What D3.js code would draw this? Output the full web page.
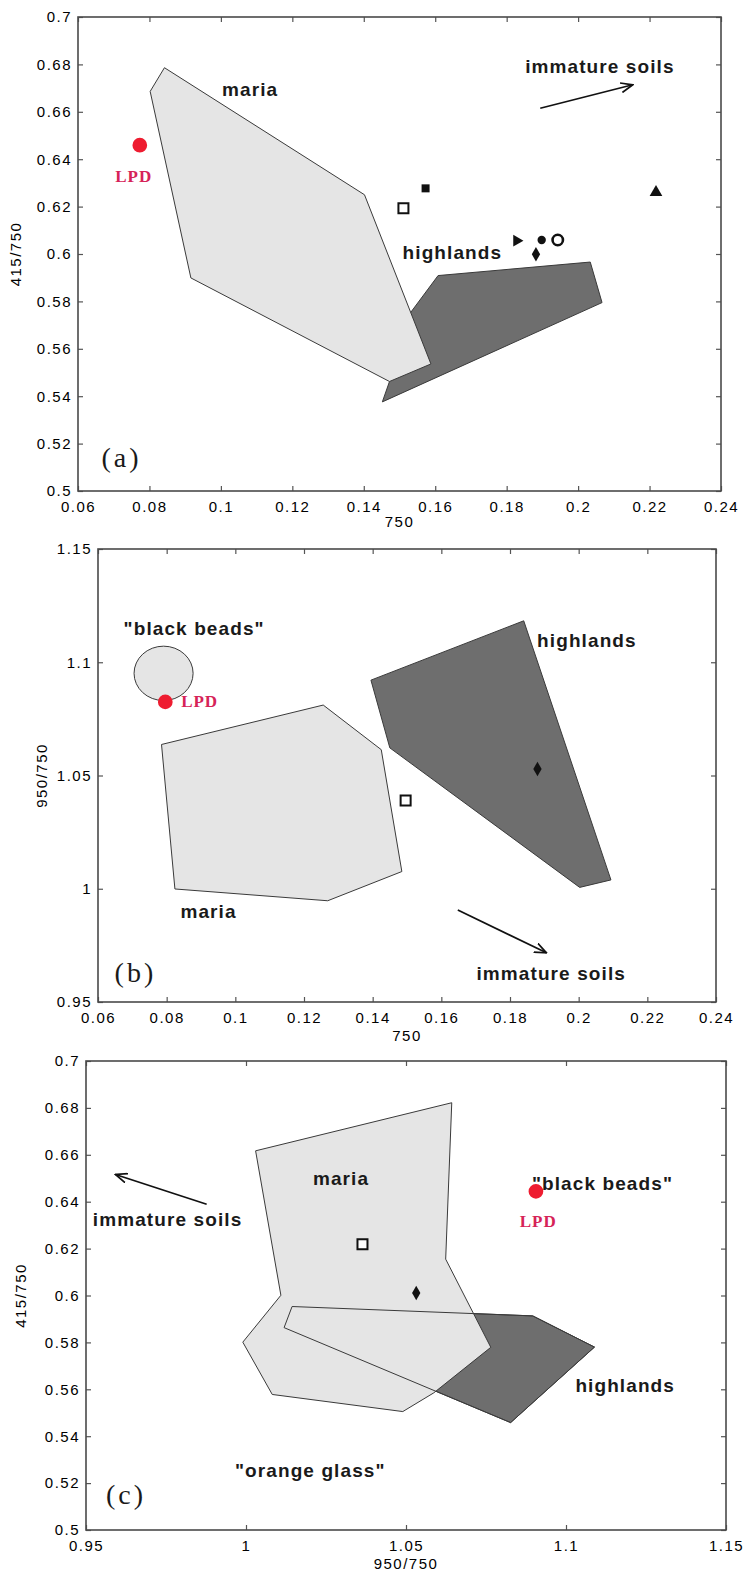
<!DOCTYPE html>
<html>
<head>
<meta charset="utf-8">
<script src="https://cdn.jsdelivr.net/npm/d3@7"></script>
<style>
  body { margin: 0; background: #fff; }
</style>
</head>
<body>
<svg id="fig" width="747" height="1577"></svg>
<script>
var svg = d3.select("#fig");

// ---- panel (a): 750 vs 415/750 ----
var aXTicks = [0.06, 0.08, 0.1, 0.12, 0.14, 0.16, 0.18, 0.2, 0.22, 0.24];
var aYTicks = [0.5, 0.52, 0.54, 0.56, 0.58, 0.6, 0.62, 0.64, 0.66, 0.68, 0.7];
var aHighlands = [[0.1608, 0.5909], [0.2034, 0.5966], [0.2067, 0.5795], [0.1452, 0.5376], [0.1472, 0.5462], [0.1500, 0.5690]];
var aMaria = [[0.0842, 0.6786], [0.0802, 0.6686], [0.0916, 0.5899], [0.1472, 0.5462], [0.1588, 0.5536], [0.1402, 0.6250]];
var aPoints = [
  ["open square", 0.1511, 0.6193],
  ["filled square", 0.1573, 0.6277],
  ["right triangle", 0.1828, 0.6056],
  ["filled circle", 0.1898, 0.6059],
  ["filled diamond", 0.1882, 0.5999],
  ["open circle", 0.1943, 0.6059],
  ["up triangle", 0.2218, 0.6260],
  ["LPD", 0.0773, 0.6459]
];
var aLabels = [
  ["maria", 0.1082, 0.6695],
  ["immature soils", 0.2061, 0.6790],
  ["highlands", 0.1648, 0.6008]
];
var aLpdLabel = [0.0756, 0.6328];
var aArrow = [[0.1894, 0.6615], [0.2153, 0.6714]];
var aTag = ["(a)", 0.0722, 0.5140];

// ---- panel (b): 750 vs 950/750 ----
var bXTicks = [0.06, 0.08, 0.1, 0.12, 0.14, 0.16, 0.18, 0.2, 0.22, 0.24];
var bYTicks = [0.95, 1, 1.05, 1.1, 1.15];
var bHighlands = [[0.1395, 1.0921], [0.1840, 1.1183], [0.2094, 1.0039], [0.2003, 1.0006], [0.1450, 1.0622]];
var bMaria = [[0.0785, 1.0637], [0.1256, 1.0811], [0.1425, 1.0614], [0.1485, 1.0076], [0.1269, 0.9947], [0.0824, 0.9999]];
var bBeads = [0.0791, 1.0951, 0.0086, 0.0120]; // centre x, centre y, half-width, half-height
var bPoints = [
  ["open square", 0.1496, 1.0390],
  ["filled diamond", 0.1880, 1.0529],
  ["LPD", 0.0796, 1.0825]
];
var bLabels = [
  ["\"black beads\"", 0.0880, 1.1149],
  ["highlands", 0.2024, 1.1094],
  ["maria", 0.0922, 0.9899],
  ["immature soils", 0.1920, 0.9625]
];
var bLpdLabel = [0.0896, 1.0825];
var bArrow = [[0.1648, 0.9906], [0.1906, 0.9717]];
var bTag = ["(b)", 0.0709, 0.9629];

// ---- panel (c): 950/750 vs 415/750 ----
var cXTicks = [0.95, 1, 1.05, 1.1, 1.15];
var cYTicks = [0.5, 0.52, 0.54, 0.56, 0.58, 0.6, 0.62, 0.64, 0.66, 0.68, 0.7];
var cHighlands = [[1.0144, 0.5953], [1.0896, 0.5913], [1.1089, 0.5780], [1.0827, 0.5458], [1.0119, 0.5863]];
var cMaria = [[1.0030, 0.6617], [1.0643, 0.6822], [1.0624, 0.6155], [1.0765, 0.5779], [1.0587, 0.5585],
              [1.0490, 0.5505], [1.0082, 0.5578], [0.9990, 0.5801], [1.0109, 0.6001]];
var cPoints = [
  ["open square", 1.0364, 0.6219],
  ["filled diamond", 1.0532, 0.6011],
  ["LPD", 1.0906, 0.6444]
];
var cLabels = [
  ["maria", 1.0297, 0.6500],
  ["\"black beads\"", 1.1114, 0.6479],
  ["immature soils", 0.9755, 0.6324],
  ["highlands", 1.1185, 0.5616],
  ["\"orange glass\"", 1.0201, 0.5253]
];
var cLpdLabel = [1.0913, 0.6314];
var cArrow = [[0.9877, 0.6389], [0.9592, 0.6516]];
var cTag = ["(c)", 0.9625, 0.5150];

// marker looks
var pointStyle = {
  "open square":    {type: d3.symbolSquare,   size: 100, fill: "#fff",    stroke: "#111", sw: 2},
  "filled square":  {type: d3.symbolSquare,   size: 64,  fill: "#111",    stroke: "none", sw: 0},
  "right triangle": {type: d3.symbolTriangle, size: 60,  fill: "#111",    stroke: "none", sw: 0, rot: 90},
  "filled circle":  {type: d3.symbolCircle,   size: 55,  fill: "#111",    stroke: "none", sw: 0},
  "filled diamond": {type: d3.symbolDiamond,  size: 60,  fill: "#111",    stroke: "none", sw: 0},
  "open circle":    {type: d3.symbolCircle,   size: 85,  fill: "#fff",    stroke: "#111", sw: 2.6},
  "up triangle":    {type: d3.symbolTriangle, size: 70,  fill: "#111",    stroke: "none", sw: 0},
  "LPD":            {type: d3.symbolCircle,   size: 170, fill: "#ee1c30", stroke: "none", sw: 0}
};

var LIGHT = "#e5e5e5", DARK = "#6e6e6e", EDGE = "#3a3a3a";
var fmt = d3.format("~g");
var sans = "'Liberation Sans', Arial, sans-serif";
var serif = "'Liberation Serif', 'Times New Roman', serif";

svg.append("defs").append("marker")
    .attr("id", "head")
    .attr("viewBox", "0 0 12 10")
    .attr("refX", 11).attr("refY", 5)
    .attr("markerWidth", 13).attr("markerHeight", 11)
    .attr("markerUnits", "userSpaceOnUse")
    .attr("orient", "auto")
  .append("path")
    .attr("d", "M0,0.5 L11,5 L0,9.5")
    .attr("fill", "none")
    .attr("stroke", "#111")
    .attr("stroke-width", 1.6);

function drawPanel(p) {
  var x = d3.scaleLinear().domain(p.xDomain).range([p.box.left, p.box.right]);
  var y = d3.scaleLinear().domain(p.yDomain).range([p.box.bottom, p.box.top]);
  var line = d3.line().x(d => x(d[0])).y(d => y(d[1]));
  var g = svg.append("g");

  // regions: highlands under maria
  g.append("path").attr("d", line(p.highlands) + "Z")
    .attr("fill", DARK).attr("stroke", EDGE).attr("stroke-width", 1);
  g.append("path").attr("d", line(p.maria) + "Z")
    .attr("fill", LIGHT).attr("stroke", EDGE).attr("stroke-width", 1);
  if (p.outlineOnTop) {
    g.append("path").attr("d", line(p.highlands) + "Z")
      .attr("fill", "none").attr("stroke", EDGE).attr("stroke-width", 1);
  }
  if (p.beads) {
    g.append("ellipse")
      .attr("cx", x(p.beads[0])).attr("cy", y(p.beads[1]))
      .attr("rx", x(p.beads[0] + p.beads[2]) - x(p.beads[0]))
      .attr("ry", y(p.beads[1]) - y(p.beads[1] + p.beads[3]))
      .attr("fill", LIGHT).attr("stroke", EDGE).attr("stroke-width", 1);
  }

  // axes, ticks pointing inward on all four sides
  var axes = [
    [d3.axisBottom(x).tickValues(p.xTicks).tickFormat(fmt).tickPadding(10), "translate(0," + p.box.bottom + ")"],
    [d3.axisTop(x).tickValues(p.xTicks).tickFormat(""), "translate(0," + p.box.top + ")"],
    [d3.axisLeft(y).tickValues(p.yTicks).tickFormat(fmt).tickPadding(6), "translate(" + p.box.left + ",0)"],
    [d3.axisRight(y).tickValues(p.yTicks).tickFormat(""), "translate(" + p.box.right + ",0)"]
  ];
  axes.forEach(function (a) {
    var ax = g.append("g").attr("transform", a[1])
      .call(a[0].tickSizeInner(-5).tickSizeOuter(0));
    ax.select(".domain").remove();
    ax.selectAll(".tick line").attr("stroke", "#555").attr("stroke-width", 1.2);
    ax.selectAll(".tick text")
      .attr("fill", "#000")
      .style("font-family", sans)
      .style("font-size", "15px")
      .style("letter-spacing", "1.5px");
  });

  g.append("rect")
    .attr("x", p.box.left).attr("y", p.box.top)
    .attr("width", p.box.right - p.box.left).attr("height", p.box.bottom - p.box.top)
    .attr("fill", "none").attr("stroke", "#4a4a4a").attr("stroke-width", 1.6);

  // axis titles
  g.append("text")
    .attr("x", (p.box.left + p.box.right) / 2).attr("y", p.xTitleY)
    .attr("text-anchor", "middle").attr("dominant-baseline", "central")
    .style("font-family", sans).style("font-size", "15px").style("letter-spacing", "1.5px")
    .attr("fill", "#000").text(p.xTitle);
  g.append("text")
    .attr("transform", "translate(" + p.yTitleX + "," + (p.box.top + p.box.bottom) / 2 + ") rotate(-90)")
    .attr("text-anchor", "middle").attr("dominant-baseline", "central")
    .style("font-family", sans).style("font-size", "15px").style("letter-spacing", "1.5px")
    .attr("fill", "#000").text(p.yTitle);

  // arrow toward immature soils
  g.append("line")
    .attr("x1", x(p.arrow[0][0])).attr("y1", y(p.arrow[0][1]))
    .attr("x2", x(p.arrow[1][0])).attr("y2", y(p.arrow[1][1]))
    .attr("stroke", "#111").attr("stroke-width", 1.7)
    .attr("marker-end", "url(#head)");

  // points
  g.selectAll(".pt")
    .data(p.points)
    .enter().append("path")
      .attr("class", "pt")
      .attr("transform", function (d) {
        var s = pointStyle[d[0]];
        return "translate(" + x(d[1]) + "," + y(d[2]) + ")" + (s.rot ? " rotate(" + s.rot + ")" : "");
      })
      .attr("d", d => d3.symbol().type(pointStyle[d[0]].type).size(pointStyle[d[0]].size)())
      .attr("fill", d => pointStyle[d[0]].fill)
      .attr("stroke", d => pointStyle[d[0]].stroke)
      .attr("stroke-width", d => pointStyle[d[0]].sw);

  // region / direction labels
  g.selectAll(".lbl")
    .data(p.labels)
    .enter().append("text")
      .attr("class", "lbl")
      .attr("x", d => x(d[1])).attr("y", d => y(d[2]))
      .attr("text-anchor", "middle").attr("dominant-baseline", "central")
      .style("font-family", sans).style("font-size", "19px").style("font-weight", "bold")
      .style("letter-spacing", "1.1px")
      .attr("fill", "#1a1a1a")
      .text(d => d[0]);

  g.append("text")
    .attr("x", x(p.lpd[0])).attr("y", y(p.lpd[1]))
    .attr("text-anchor", "middle").attr("dominant-baseline", "central")
    .style("font-family", serif).style("font-size", "17px").style("font-weight", "bold")
    .style("letter-spacing", "1px")
    .attr("fill", "#d62358").text("LPD");

  g.append("text")
    .attr("x", x(p.tag[1])).attr("y", y(p.tag[2]))
    .attr("text-anchor", "middle").attr("dominant-baseline", "central")
    .style("font-family", serif).style("font-size", "28px").style("letter-spacing", "3px")
    .attr("fill", "#1a1a1a").text(p.tag[0]);
}

drawPanel({
  box: {left: 78, right: 721, top: 17, bottom: 491},
  xDomain: [0.06, 0.24], yDomain: [0.5, 0.7],
  xTicks: aXTicks, yTicks: aYTicks,
  xTitle: "750", yTitle: "415/750", xTitleY: 521, yTitleX: 15,
  highlands: aHighlands, maria: aMaria,
  points: aPoints, labels: aLabels, lpd: aLpdLabel, arrow: aArrow, tag: aTag
});

drawPanel({
  box: {left: 98, right: 716, top: 549, bottom: 1002},
  xDomain: [0.06, 0.24], yDomain: [0.95, 1.15],
  xTicks: bXTicks, yTicks: bYTicks,
  xTitle: "750", yTitle: "950/750", xTitleY: 1035, yTitleX: 41,
  highlands: bHighlands, maria: bMaria, beads: bBeads,
  points: bPoints, labels: bLabels, lpd: bLpdLabel, arrow: bArrow, tag: bTag
});

drawPanel({
  box: {left: 86, right: 726, top: 1061, bottom: 1530},
  xDomain: [0.95, 1.15], yDomain: [0.5, 0.7],
  xTicks: cXTicks, yTicks: cYTicks,
  xTitle: "950/750", yTitle: "415/750", xTitleY: 1563, yTitleX: 20,
  highlands: cHighlands, maria: cMaria, outlineOnTop: true,
  points: cPoints, labels: cLabels, lpd: cLpdLabel, arrow: cArrow, tag: cTag
});
</script>
</body>
</html>
